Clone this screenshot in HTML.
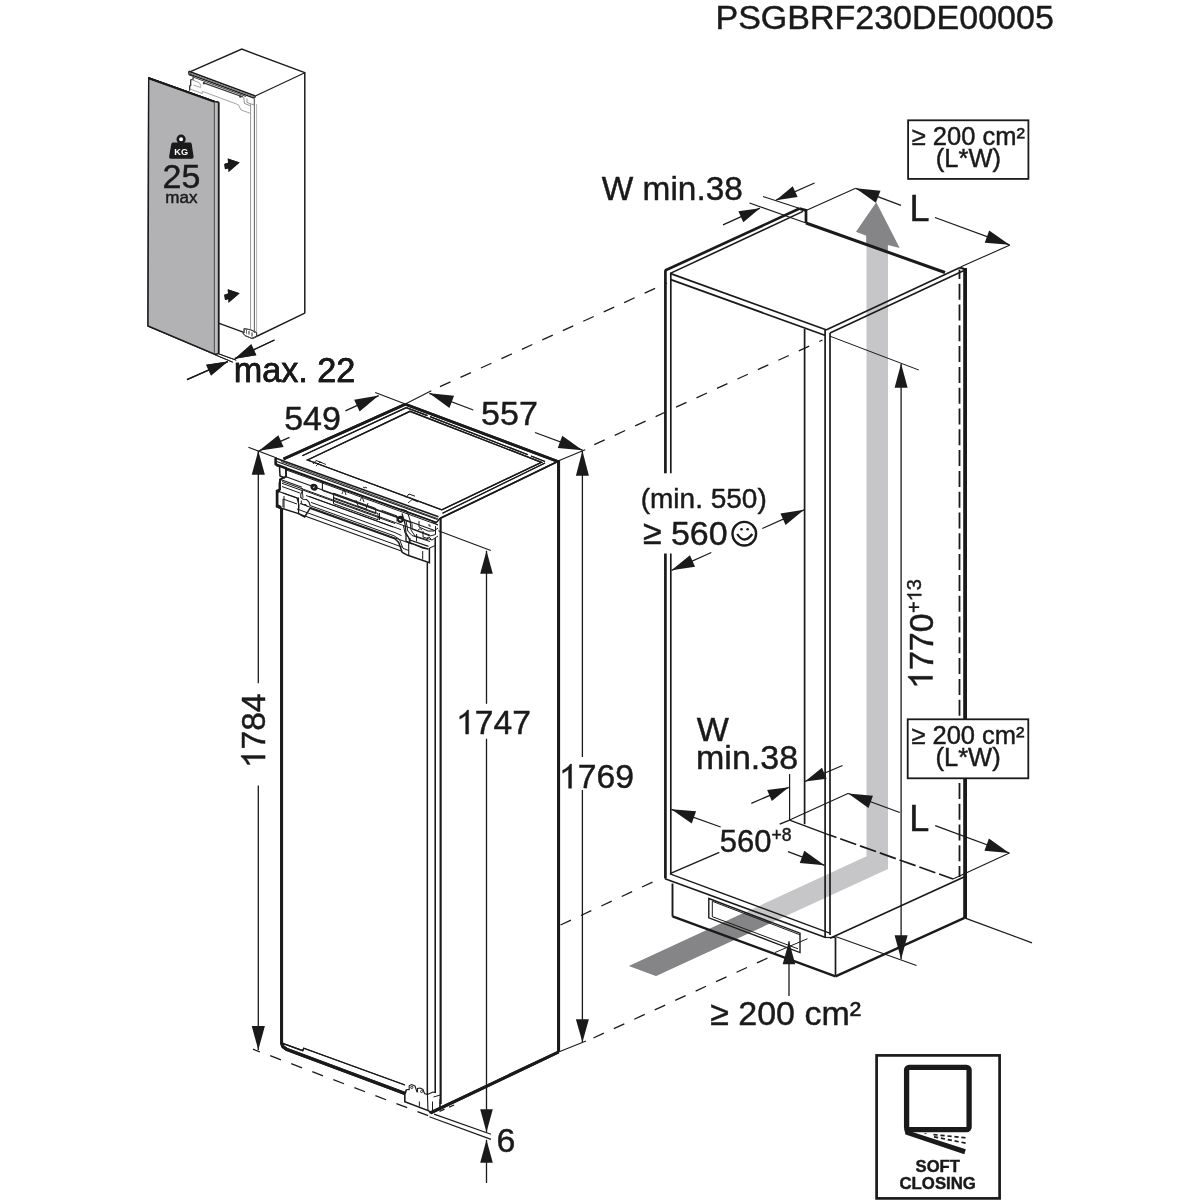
<!DOCTYPE html>
<html><head><meta charset="utf-8"><style>
html,body{margin:0;padding:0;background:#fff;}
svg{display:block;will-change:transform;}
text{font-family:"Liberation Sans",sans-serif;}
</style></head><body>
<svg width="1200" height="1200" viewBox="0 0 1200 1200">
<rect width="1200" height="1200" fill="#fff"/>
<text x="715.5" y="29.3" font-size="34" text-anchor="start" font-weight="normal" fill="#1a1a1a" stroke="#1a1a1a" stroke-width="0.45">PSGBRF230DE00005</text>
<polygon points="629,966 866.5,856.3 866.5,245 888,245 888,869 656,976" fill="#c6c6c8"/>
<polygon points="629,966 745.17,912.34 771.94,922.53 656,976" fill="#858587"/>
<polygon points="876.3,202.3 856,231.7 866.2,235.7 866.2,244.54 887.8,252.2 887.8,245 899.7,248" fill="#858587"/>
<polyline points="189.3,72.1 241.8,49.1 304.8,72.7" fill="none" stroke="#1a1a1a" stroke-width="1.35" stroke-linejoin="miter"/>
<line x1="304.8" y1="72.7" x2="255.3" y2="96" stroke="#1a1a1a" stroke-width="1.1"/>
<line x1="304.8" y1="72" x2="304.8" y2="313.3" stroke="#1a1a1a" stroke-width="1.5"/>
<line x1="304.8" y1="313.2" x2="252" y2="338.6" stroke="#1a1a1a" stroke-width="1.4"/>
<polyline points="188.7,71.3 189,74 254.3,98.2 255.5,96" fill="none" stroke="#1a1a1a" stroke-width="1.4" stroke-linejoin="miter"/>
<line x1="188.7" y1="71.3" x2="255.3" y2="96" stroke="#1a1a1a" stroke-width="1.5"/>
<polygon points="189,72.2 254.8,96.6 254.3,97.6 189,73.5" fill="#777"/>
<polyline points="189,74 189.5,75 193.3,76 193,79.3 190.7,80 190.7,85.3 189.7,86 189.7,90.7" fill="none" stroke="#333" stroke-width="1.3" stroke-linejoin="miter"/>
<line x1="193.7" y1="77.3" x2="246" y2="96.5" stroke="#444" stroke-width="1.0"/>
<line x1="203" y1="82.6" x2="243" y2="97" stroke="#333" stroke-width="1.3"/>
<circle cx="204" cy="83.3" r="1.1" fill="#333"/><circle cx="240.3" cy="96.6" r="1.2" fill="#333"/>
<polyline points="192.3,80 199,82.5 201,85.5 200.5,87.5 193.5,85" fill="none" stroke="#9a9a9a" stroke-width="0.9" stroke-linejoin="miter"/>
<polyline points="190,89 202.3,93.5 202.3,91.3 238.3,104.7 241,110 251,113.5" fill="none" stroke="#9a9a9a" stroke-width="0.9" stroke-linejoin="miter"/>
<polyline points="243.7,97 244.5,103.5 251,106" fill="none" stroke="#888" stroke-width="0.9" stroke-linejoin="miter"/>
<polyline points="247,98.5 247,102.5 254.3,105" fill="none" stroke="#888" stroke-width="0.9" stroke-linejoin="miter"/>
<line x1="254.3" y1="98" x2="254.3" y2="104.7" stroke="#888" stroke-width="1.0"/>
<line x1="250.6" y1="104" x2="250.6" y2="329" stroke="#999" stroke-width="1.0"/>
<line x1="254.4" y1="99" x2="254.4" y2="333" stroke="#6a6a6a" stroke-width="1.1"/>
<line x1="256.6" y1="104" x2="256.6" y2="332" stroke="#aaa" stroke-width="0.9"/>
<line x1="218.5" y1="323.1" x2="244.5" y2="332.6" stroke="#1a1a1a" stroke-width="1.4"/>
<polyline points="244.1,328.6 244,331.8 242.8,333 245,335.6 252,338.5 256.6,336.5 256.6,332.5 250.6,329.8 244.1,328.6" fill="none" stroke="#444" stroke-width="1.0" stroke-linejoin="miter"/>
<line x1="246.5" y1="330" x2="246.5" y2="333.5" stroke="#666" stroke-width="0.9"/>
<line x1="249" y1="331" x2="249" y2="334.5" stroke="#666" stroke-width="0.9"/>
<line x1="252" y1="332.5" x2="252" y2="336.5" stroke="#666" stroke-width="0.9"/>
<polygon points="148.7,78 214.6,101.6 214.6,354.2 148,326" fill="#b2b2b4"/>
<polygon points="148.7,78 214.6,101.6 214.6,354.2 148,326" fill="none" stroke="#1a1a1a" stroke-width="1.4" stroke-linejoin="miter"/>
<line x1="148.7" y1="78.3" x2="214.6" y2="101.9" stroke="#1a1a1a" stroke-width="2.0"/>
<polygon points="214.6,101.6 218.6,102.2 218.6,353.6 214.6,354.2" fill="#bdbdbf"/>
<line x1="218.6" y1="102.2" x2="218.6" y2="353.6" stroke="#1a1a1a" stroke-width="1.6"/>
<line x1="214.6" y1="101.6" x2="218.6" y2="102.2" stroke="#1a1a1a" stroke-width="1.4"/>
<line x1="214.6" y1="354.2" x2="218.6" y2="353.6" stroke="#1a1a1a" stroke-width="1.2"/>
<polygon points="239.6,293.3 227.8,289.3 228.6,302.7" fill="#1a1a1a"/>
<polygon points="224.3,294.8 231,292.5 232.5,298 225,300" fill="#1a1a1a"/>
<polygon points="239.6,162.5 227.8,158.5 228.6,171.9" fill="#1a1a1a"/>
<polygon points="224.3,164 231,161.7 232.5,167.2 225,169.2" fill="#1a1a1a"/>
<circle cx="181.1" cy="139.2" r="3.3" fill="#fff" stroke="#1a1a1a" stroke-width="2.6"/>
<path d="M173.3,142.6 L189.9,142.6 Q191.4,142.6 191.7,144 L193.6,156.8 Q193.8,158.8 191.8,158.8 L170.8,158.8 Q168.8,158.8 169.1,156.8 L171.3,144 Q171.7,142.6 173.3,142.6 Z" fill="#1a1a1a"/>
<text x="181.2" y="154.6" font-size="9.2" text-anchor="middle" font-weight="bold" fill="#fff">KG</text>
<text x="181.5" y="187.9" font-size="34" text-anchor="middle" font-weight="normal" fill="#1a1a1a" stroke="#1a1a1a" stroke-width="0.45">25</text>
<text x="181.4" y="202.5" font-size="17" text-anchor="middle" font-weight="normal" fill="#1a1a1a" stroke="#1a1a1a" stroke-width="0.45">max</text>
<line x1="214.6" y1="354.6" x2="232.8" y2="362.2" stroke="#1a1a1a" stroke-width="0.9"/>
<line x1="218.6" y1="353.8" x2="236.2" y2="360.2" stroke="#1a1a1a" stroke-width="0.9"/>
<line x1="187" y1="379.7" x2="227.8" y2="361.6" stroke="#1a1a1a" stroke-width="1.3"/>
<polygon points="227.8,361.6 211.04,375.6 206.17,364.63" fill="#1a1a1a"/>
<line x1="274.5" y1="340" x2="234.8" y2="358.7" stroke="#1a1a1a" stroke-width="1.3"/>
<polygon points="234.8,358.7 251.24,344.32 256.35,355.18" fill="#1a1a1a"/>
<text x="233.7" y="381.9" font-size="34.2" text-anchor="start" font-weight="normal" fill="#1a1a1a" stroke="#1a1a1a" stroke-width="0.45">max. 22</text>
<line x1="283.5" y1="459" x2="405.3" y2="404.3" stroke="#1a1a1a" stroke-width="2.8"/>
<line x1="405.3" y1="404.3" x2="557.2" y2="461.2" stroke="#1a1a1a" stroke-width="2.8"/>
<line x1="302.3" y1="455.7" x2="406.3" y2="407.6" stroke="#1a1a1a" stroke-width="1.2"/>
<line x1="406.3" y1="407.6" x2="427.5" y2="415.6" stroke="#1a1a1a" stroke-width="1.2"/>
<line x1="430" y1="416.6" x2="528" y2="454.8" stroke="#1a1a1a" stroke-width="1.2"/>
<line x1="531" y1="456" x2="545" y2="461.5" stroke="#1a1a1a" stroke-width="1.2"/>
<polygon points="307.5,460 410,411.3 541.5,462.3 441.8,509.8" fill="none" stroke="#1a1a1a" stroke-width="1.3" stroke-linejoin="miter"/>
<line x1="557.2" y1="461.8" x2="440.3" y2="518.3" stroke="#1a1a1a" stroke-width="1.6"/>
<line x1="545" y1="463" x2="442.5" y2="513.2" stroke="#1a1a1a" stroke-width="1.1"/>
<line x1="558.6" y1="460" x2="558.6" y2="1052" stroke="#1a1a1a" stroke-width="2.9"/>
<line x1="558.6" y1="1052" x2="430.5" y2="1112.8" stroke="#1a1a1a" stroke-width="3.0"/>
<line x1="440.6" y1="518" x2="440.6" y2="1104" stroke="#1a1a1a" stroke-width="1.7"/>
<line x1="281.6" y1="508" x2="281.6" y2="1044" stroke="#1a1a1a" stroke-width="2.9"/>
<polyline points="281.6,1043 283,1046.8 287,1049.6 405,1093.4" fill="none" stroke="#1a1a1a" stroke-width="3.2" stroke-linejoin="round"/>
<polyline points="282,1043.2 302.7,1050.6 303.8,1048.2 405,1085" fill="none" stroke="#1a1a1a" stroke-width="1.3" stroke-linejoin="miter"/>
<line x1="427.4" y1="562.6" x2="427.4" y2="1095" stroke="#1a1a1a" stroke-width="1.3"/>
<line x1="435.3" y1="539" x2="435.3" y2="1093" stroke="#1a1a1a" stroke-width="1.3"/>
<polyline points="275.3,458 275.3,464 286,468 286,476.7 280,479.3 280,489.3 276.7,490.7 276.7,506.7 281.3,508.5" fill="none" stroke="#1a1a1a" stroke-width="1.9" stroke-linejoin="miter"/>
<line x1="275.3" y1="458" x2="438.5" y2="516.8" stroke="#1a1a1a" stroke-width="1.6"/>
<line x1="276.7" y1="461.6" x2="437.5" y2="519.6" stroke="#1a1a1a" stroke-width="1.1"/>
<line x1="286" y1="468" x2="436.5" y2="522.6" stroke="#1a1a1a" stroke-width="1.5"/>
<line x1="286" y1="476.7" x2="436" y2="531" stroke="#1a1a1a" stroke-width="1.1"/>
<line x1="322.4" y1="481.4" x2="322.4" y2="490.5" stroke="#1a1a1a" stroke-width="1.1"/>
<line x1="280" y1="479.3" x2="302" y2="487.3" stroke="#1a1a1a" stroke-width="1.1"/>
<line x1="282" y1="483.3" x2="302" y2="490.5" stroke="#1a1a1a" stroke-width="1.0"/>
<line x1="303.5" y1="490.3" x2="395" y2="523.5" stroke="#1a1a1a" stroke-width="1.0"/>
<line x1="306" y1="495.5" x2="393" y2="527" stroke="#1a1a1a" stroke-width="1.0"/>
<line x1="322.4" y1="490.5" x2="412" y2="523" stroke="#1a1a1a" stroke-width="1.0"/>
<polyline points="276.7,490.7 298.5,498.5" fill="none" stroke="#1a1a1a" stroke-width="1.1" stroke-linejoin="miter"/>
<line x1="284" y1="496" x2="284" y2="508.2" stroke="#1a1a1a" stroke-width="1.0"/>
<polyline points="298.5,497.5 298.5,513.3" fill="none" stroke="#1a1a1a" stroke-width="1.1" stroke-linejoin="miter"/>
<polyline points="303.3,490 300.8,494 300.8,497.5 303,499.3 306.5,499.5 309,502 310,505.5" fill="none" stroke="#1a1a1a" stroke-width="1.1" stroke-linejoin="miter"/>
<polyline points="301.3,500.5 301.3,503.5 303.5,504.5 306,504.6 307.5,507" fill="none" stroke="#1a1a1a" stroke-width="1.0" stroke-linejoin="miter"/>
<polyline points="276.7,506.7 298.5,513.6 304.7,516.9 310,508.2 395,538.8 398.7,542.5 402.3,552.4 407.8,555.3 429.4,562.6 429.4,548" fill="none" stroke="#1a1a1a" stroke-width="1.5" stroke-linejoin="miter"/>
<polyline points="310,505.5 394,535.8 399.5,539.3 403,548.3 408.7,550.5" fill="none" stroke="#1a1a1a" stroke-width="1.0" stroke-linejoin="miter"/>
<polyline points="311,502.4 395,532.6 401.5,535.6" fill="none" stroke="#1a1a1a" stroke-width="1.0" stroke-linejoin="miter"/>
<polyline points="333.6,493.2 375.7,508.4 375.7,513.6 333.6,498.4 333.6,493.2" fill="none" stroke="#1a1a1a" stroke-width="1.0" stroke-linejoin="miter"/>
<polyline points="381.5,510.3 397,516 397,521.5" fill="none" stroke="#1a1a1a" stroke-width="1.0" stroke-linejoin="miter"/>
<polyline points="342,494 344,489 346,495" fill="none" stroke="#1a1a1a" stroke-width="0.9" stroke-linejoin="miter"/>
<polyline points="360,501 362,496.5 364,502" fill="none" stroke="#1a1a1a" stroke-width="0.9" stroke-linejoin="miter"/>
<line x1="379.5" y1="513" x2="379.5" y2="520" stroke="#1a1a1a" stroke-width="1.0"/>
<polyline points="408.7,542.3 408.7,555.3" fill="none" stroke="#1a1a1a" stroke-width="1.1" stroke-linejoin="miter"/>
<polyline points="408.7,542.3 428,549" fill="none" stroke="#1a1a1a" stroke-width="1.0" stroke-linejoin="miter"/>
<line x1="422.7" y1="551" x2="422.7" y2="559.5" stroke="#1a1a1a" stroke-width="1.0"/>
<polyline points="403.5,526 405,533 409,538 409.5,542" fill="none" stroke="#1a1a1a" stroke-width="1.0" stroke-linejoin="miter"/>
<polyline points="406,520.5 407.8,531 412,535.5 430,541.5" fill="none" stroke="#1a1a1a" stroke-width="1.0" stroke-linejoin="miter"/>
<polyline points="412,523.5 412,529 430,536 435.5,534.5 435.5,526" fill="none" stroke="#1a1a1a" stroke-width="1.0" stroke-linejoin="miter"/>
<polyline points="418,530 420,528.6 422,530" fill="none" stroke="#1a1a1a" stroke-width="0.9" stroke-linejoin="miter"/>
<polyline points="427,538 429,537 431,539" fill="none" stroke="#1a1a1a" stroke-width="0.9" stroke-linejoin="miter"/>
<polyline points="429.4,548 435.5,545.5 435.5,538" fill="none" stroke="#1a1a1a" stroke-width="1.0" stroke-linejoin="miter"/>
<line x1="416.6" y1="534" x2="416.6" y2="541.5" stroke="#1a1a1a" stroke-width="1.0"/>
<circle cx="313.5" cy="486.8" r="2.3" fill="none" stroke="#1a1a1a" stroke-width="1.6"/>
<circle cx="400.3" cy="519.8" r="2.3" fill="none" stroke="#1a1a1a" stroke-width="1.6"/>
<polyline points="313,464 316,460.5 322,462.7" fill="none" stroke="#1a1a1a" stroke-width="1.0" stroke-linejoin="miter"/>
<polyline points="406,497.5 409,494 415,496.2" fill="none" stroke="#1a1a1a" stroke-width="1.0" stroke-linejoin="miter"/>
<line x1="365" y1="487" x2="367" y2="488" stroke="#1a1a1a" stroke-width="1.0"/>
<polyline points="244.1,328.6 244,331.8 242.8,333 245,335.6 252,338.5 256.6,336.5 256.6,332.5 250.6,329.8 244.1,328.6" fill="none" stroke="#444" stroke-width="1.0" stroke-linejoin="miter"/>
<line x1="246.5" y1="330" x2="246.5" y2="333.5" stroke="#666" stroke-width="0.9"/>
<line x1="249" y1="331" x2="249" y2="334.5" stroke="#666" stroke-width="0.9"/>
<line x1="252" y1="332.5" x2="252" y2="336.5" stroke="#666" stroke-width="0.9"/>
<polygon points="148.7,78 214.6,101.6 214.6,354.2 148,326" fill="#b2b2b4"/>
<polygon points="148.7,78 214.6,101.6 214.6,354.2 148,326" fill="none" stroke="#1a1a1a" stroke-width="1.4" stroke-linejoin="miter"/>
<line x1="148.7" y1="78.3" x2="214.6" y2="101.9" stroke="#1a1a1a" stroke-width="2.0"/>
<polygon points="214.6,101.6 218.6,102.2 218.6,353.6 214.6,354.2" fill="#bdbdbf"/>
<line x1="218.6" y1="102.2" x2="218.6" y2="353.6" stroke="#1a1a1a" stroke-width="1.6"/>
<line x1="214.6" y1="101.6" x2="218.6" y2="102.2" stroke="#1a1a1a" stroke-width="1.4"/>
<line x1="214.6" y1="354.2" x2="218.6" y2="353.6" stroke="#1a1a1a" stroke-width="1.2"/>
<polygon points="239.6,293.3 227.8,289.3 228.6,302.7" fill="#1a1a1a"/>
<polygon points="224.3,294.8 231,292.5 232.5,298 225,300" fill="#1a1a1a"/>
<polygon points="239.6,162.5 227.8,158.5 228.6,171.9" fill="#1a1a1a"/>
<polygon points="224.3,164 231,161.7 232.5,167.2 225,169.2" fill="#1a1a1a"/>
<circle cx="181.1" cy="139.2" r="3.3" fill="#fff" stroke="#1a1a1a" stroke-width="2.6"/>
<path d="M173.3,142.6 L189.9,142.6 Q191.4,142.6 191.7,144 L193.6,156.8 Q193.8,158.8 191.8,158.8 L170.8,158.8 Q168.8,158.8 169.1,156.8 L171.3,144 Q171.7,142.6 173.3,142.6 Z" fill="#1a1a1a"/>
<text x="181.2" y="154.6" font-size="9.2" text-anchor="middle" font-weight="bold" fill="#fff">KG</text>
<text x="181.5" y="187.9" font-size="34" text-anchor="middle" font-weight="normal" fill="#1a1a1a" stroke="#1a1a1a" stroke-width="0.45">25</text>
<text x="181.4" y="202.5" font-size="17" text-anchor="middle" font-weight="normal" fill="#1a1a1a" stroke="#1a1a1a" stroke-width="0.45">max</text>
<line x1="214.6" y1="354.6" x2="232.8" y2="362.2" stroke="#1a1a1a" stroke-width="0.9"/>
<line x1="218.6" y1="353.8" x2="236.2" y2="360.2" stroke="#1a1a1a" stroke-width="0.9"/>
<line x1="187" y1="379.7" x2="227.8" y2="361.6" stroke="#1a1a1a" stroke-width="1.3"/>
<polygon points="227.8,361.6 211.04,375.6 206.17,364.63" fill="#1a1a1a"/>
<line x1="274.5" y1="340" x2="234.8" y2="358.7" stroke="#1a1a1a" stroke-width="1.3"/>
<polygon points="234.8,358.7 251.24,344.32 256.35,355.18" fill="#1a1a1a"/>
<text x="233.7" y="381.9" font-size="34.2" text-anchor="start" font-weight="normal" fill="#1a1a1a" stroke="#1a1a1a" stroke-width="0.45">max. 22</text>
<line x1="283.5" y1="459" x2="405.3" y2="404.3" stroke="#1a1a1a" stroke-width="2.8"/>
<line x1="405.3" y1="404.3" x2="557.2" y2="461.2" stroke="#1a1a1a" stroke-width="2.8"/>
<line x1="302.3" y1="455.7" x2="406.3" y2="407.6" stroke="#1a1a1a" stroke-width="1.2"/>
<line x1="406.3" y1="407.6" x2="427.5" y2="415.6" stroke="#1a1a1a" stroke-width="1.2"/>
<line x1="430" y1="416.6" x2="528" y2="454.8" stroke="#1a1a1a" stroke-width="1.2"/>
<line x1="531" y1="456" x2="545" y2="461.5" stroke="#1a1a1a" stroke-width="1.2"/>
<polygon points="307.5,460 410,411.3 541.5,462.3 441.8,509.8" fill="none" stroke="#1a1a1a" stroke-width="1.3" stroke-linejoin="miter"/>
<line x1="557.2" y1="461.8" x2="440.3" y2="518.3" stroke="#1a1a1a" stroke-width="1.6"/>
<line x1="545" y1="463" x2="442.5" y2="513.2" stroke="#1a1a1a" stroke-width="1.1"/>
<line x1="558.6" y1="460" x2="558.6" y2="1052" stroke="#1a1a1a" stroke-width="2.9"/>
<line x1="558.6" y1="1052" x2="430.5" y2="1112.8" stroke="#1a1a1a" stroke-width="3.0"/>
<line x1="440.6" y1="518" x2="440.6" y2="1104" stroke="#1a1a1a" stroke-width="1.7"/>
<line x1="281.6" y1="508" x2="281.6" y2="1044" stroke="#1a1a1a" stroke-width="2.9"/>
<polyline points="281.6,1043 283,1046.8 287,1049.6 405,1093.4" fill="none" stroke="#1a1a1a" stroke-width="3.2" stroke-linejoin="round"/>
<polyline points="282,1043.2 302.7,1050.6 303.8,1048.2 405,1085" fill="none" stroke="#1a1a1a" stroke-width="1.3" stroke-linejoin="miter"/>
<line x1="427.4" y1="562.6" x2="427.4" y2="1095" stroke="#1a1a1a" stroke-width="1.3"/>
<line x1="435.3" y1="539" x2="435.3" y2="1093" stroke="#1a1a1a" stroke-width="1.3"/>
<polyline points="276,458.5 276.2,465.2 436.5,522.4 440.3,518" fill="none" stroke="#1a1a1a" stroke-width="1.6" stroke-linejoin="miter"/>
<line x1="281" y1="461.5" x2="438" y2="518.8" stroke="#1a1a1a" stroke-width="0.9"/>
<polyline points="276.2,465.2 279.5,466.5 280,476 285,478" fill="none" stroke="#1a1a1a" stroke-width="1.5" stroke-linejoin="miter"/>
<polyline points="280.5,480 279.4,483 279.4,491 277.6,492.5 277.6,505 281.2,507" fill="none" stroke="#1a1a1a" stroke-width="1.7" stroke-linejoin="miter"/>
<line x1="285" y1="469.5" x2="438" y2="524.96" stroke="#1a1a1a" stroke-width="1.0"/>
<line x1="282" y1="481.5" x2="430" y2="535.15" stroke="#1a1a1a" stroke-width="1.0"/>
<line x1="282" y1="486.5" x2="300" y2="493.02" stroke="#1a1a1a" stroke-width="1.0"/>
<line x1="309" y1="496.3" x2="401" y2="529.65" stroke="#1a1a1a" stroke-width="1.0"/>
<line x1="300" y1="503.5" x2="412" y2="544.1" stroke="#1a1a1a" stroke-width="1.0"/>
<line x1="297" y1="509" x2="402" y2="547.06" stroke="#1a1a1a" stroke-width="1.0"/>
<line x1="298" y1="513.5" x2="402" y2="551.2" stroke="#1a1a1a" stroke-width="1.2"/>
<polyline points="283,493 297,498 299,505 298.5,513.5" fill="none" stroke="#1a1a1a" stroke-width="1.1" stroke-linejoin="miter"/>
<polyline points="283,507 283,499 297,504" fill="none" stroke="#1a1a1a" stroke-width="1.0" stroke-linejoin="miter"/>
<polygon points="333.5,497.5 378,513.6 378,519.8 333.5,503.7" fill="none" stroke="#1a1a1a" stroke-width="1.0" stroke-linejoin="miter"/>
<polyline points="302,488 303,498" fill="none" stroke="#1a1a1a" stroke-width="0.9" stroke-linejoin="miter"/>
<polyline points="356,500 358,506 366,509 368,503" fill="none" stroke="#1a1a1a" stroke-width="0.9" stroke-linejoin="miter"/>
<polyline points="402,513.5 405,524 406,533 410,540 428.5,546.3" fill="none" stroke="#1a1a1a" stroke-width="1.3" stroke-linejoin="miter"/>
<polyline points="401,509 407,511 410,520 411,530 415,536 428,540" fill="none" stroke="#1a1a1a" stroke-width="1.0" stroke-linejoin="miter"/>
<polyline points="406,533 406,541 423,548 428.5,549" fill="none" stroke="#1a1a1a" stroke-width="1.3" stroke-linejoin="miter"/>
<line x1="410" y1="538" x2="410" y2="543" stroke="#1a1a1a" stroke-width="1.0"/>
<polyline points="419,521 419,527 428,531 434,531 438,528" fill="none" stroke="#1a1a1a" stroke-width="1.0" stroke-linejoin="miter"/>
<polyline points="423,531 423,537 432,540 438,536" fill="none" stroke="#1a1a1a" stroke-width="1.0" stroke-linejoin="miter"/>
<polyline points="428,525 430,525 430,527" fill="none" stroke="#1a1a1a" stroke-width="0.9" stroke-linejoin="miter"/>
<line x1="432" y1="522" x2="438" y2="525" stroke="#1a1a1a" stroke-width="1.0"/>
<circle cx="314.5" cy="487.5" r="2.4" fill="none" stroke="#1a1a1a" stroke-width="1.5"/>
<circle cx="400.5" cy="519" r="2.4" fill="none" stroke="#1a1a1a" stroke-width="1.5"/>
<polyline points="316,466 320,462 326,464.5" fill="none" stroke="#1a1a1a" stroke-width="0.9" stroke-linejoin="miter"/>
<polyline points="408,503 412,499.5 418,502" fill="none" stroke="#1a1a1a" stroke-width="0.9" stroke-linejoin="miter"/>
<line x1="363" y1="487" x2="365" y2="488" stroke="#1a1a1a" stroke-width="1.0"/>
<polyline points="406.5,1089.5 404.8,1094.5 404.8,1101.8 428.8,1110.8 430.3,1112.8 433.5,1112 439.8,1108.5 440.3,1099" fill="none" stroke="#1a1a1a" stroke-width="1.6" stroke-linejoin="miter"/>
<polyline points="406.5,1089.5 409.2,1089.6 409.2,1085.8 411.5,1084.6 415,1086 416.5,1090.5 417.3,1092.2" fill="none" stroke="#1a1a1a" stroke-width="1.1" stroke-linejoin="miter"/>
<polyline points="417.3,1092.2 417.5,1088.5 420,1088 423,1089.5 424.5,1093.5 427.4,1094.5" fill="none" stroke="#1a1a1a" stroke-width="1.1" stroke-linejoin="miter"/>
<circle cx="411.8" cy="1087.4" r="1.1" fill="none" stroke="#1a1a1a" stroke-width="0.9"/>
<circle cx="421.6" cy="1091.5" r="1.1" fill="none" stroke="#1a1a1a" stroke-width="0.9"/>
<polyline points="427.4,1094.5 433,1092 435.3,1092.5" fill="none" stroke="#1a1a1a" stroke-width="1.1" stroke-linejoin="miter"/>
<polyline points="427.4,1094.5 428,1111" fill="none" stroke="#1a1a1a" stroke-width="1.1" stroke-linejoin="miter"/>
<line x1="432.5" y1="1101.5" x2="432.5" y2="1111.5" stroke="#1a1a1a" stroke-width="1.0"/>
<line x1="419.4" y1="1101.5" x2="419.4" y2="1106.5" stroke="#1a1a1a" stroke-width="1.0"/>
<line x1="433.5" y1="1097" x2="440.3" y2="1095" stroke="#1a1a1a" stroke-width="1.0"/>
<line x1="248.4" y1="447.3" x2="276.7" y2="457.9" stroke="#1a1a1a" stroke-width="1.1"/>
<line x1="375.2" y1="392.5" x2="405.3" y2="404" stroke="#1a1a1a" stroke-width="1.1"/>
<line x1="289.5" y1="437.4" x2="259" y2="450.8" stroke="#1a1a1a" stroke-width="1.3"/>
<polygon points="259,450.8 278.36,435.2 283.59,447.1" fill="#1a1a1a"/>
<line x1="345.4" y1="410.9" x2="378.7" y2="395.6" stroke="#1a1a1a" stroke-width="1.3"/>
<polygon points="378.7,395.6 359.61,411.53 354.18,399.71" fill="#1a1a1a"/>
<text x="284.2" y="429.8" font-size="34" text-anchor="start" font-weight="normal" fill="#1a1a1a" stroke="#1a1a1a" stroke-width="0.45">549</text>
<line x1="405.3" y1="404" x2="431.3" y2="390.7" stroke="#1a1a1a" stroke-width="1.1"/>
<line x1="558.6" y1="460.8" x2="585.2" y2="449.8" stroke="#1a1a1a" stroke-width="1.1"/>
<line x1="473.3" y1="410" x2="429.3" y2="393.3" stroke="#1a1a1a" stroke-width="1.3"/>
<polygon points="429.3,393.3 454.04,395.74 449.43,407.89" fill="#1a1a1a"/>
<line x1="535" y1="432.5" x2="582.5" y2="450.2" stroke="#1a1a1a" stroke-width="1.3"/>
<polygon points="582.5,450.2 557.74,447.91 562.28,435.73" fill="#1a1a1a"/>
<text x="481.1" y="425" font-size="34" text-anchor="start" font-weight="normal" fill="#1a1a1a" stroke="#1a1a1a" stroke-width="0.45">557</text>
<line x1="258.3" y1="683.3" x2="258.3" y2="450.8" stroke="#1a1a1a" stroke-width="1.3"/>
<polygon points="258.3,450.8 264.9,474.8 251.7,474.8" fill="#1a1a1a"/>
<line x1="258.3" y1="785.4" x2="258.3" y2="1050" stroke="#1a1a1a" stroke-width="1.3"/>
<polygon points="258.3,1050 251.7,1026 264.9,1026" fill="#1a1a1a"/>
<g transform="translate(265.1,768.1) rotate(-90)"><path d="M0.3726,0 L0.2847,0 L0.2847,0.56 C0.25,0.527 0.205,0.497 0.16,0.472 C0.14,0.461 0.12,0.452 0.109,0.447 L0.109,0.530 C0.17,0.558 0.225,0.595 0.27,0.636 C0.3,0.664 0.32,0.69 0.336,0.716 L0.3726,0.716 Z" transform="translate(0,0) scale(33.5,-33.5)" fill="#1a1a1a" stroke="#1a1a1a" stroke-width="0.0134"/><text x="18.63" y="0" font-size="33.5" fill="#1a1a1a" stroke="#1a1a1a" stroke-width="0.45">784</text></g>
<line x1="438.3" y1="530.8" x2="490.8" y2="550.6" stroke="#1a1a1a" stroke-width="1.1"/>
<line x1="486.5" y1="703.8" x2="486.5" y2="550.8" stroke="#1a1a1a" stroke-width="1.3"/>
<polygon points="486.5,550.8 492.8,573.8 480.2,573.8" fill="#1a1a1a"/>
<line x1="486.5" y1="738.7" x2="486.5" y2="1132.2" stroke="#1a1a1a" stroke-width="1.3"/>
<polygon points="486.5,1132.2 480.2,1109.2 492.8,1109.2" fill="#1a1a1a"/>
<path d="M0.3726,0 L0.2847,0 L0.2847,0.56 C0.25,0.527 0.205,0.497 0.16,0.472 C0.14,0.461 0.12,0.452 0.109,0.447 L0.109,0.530 C0.17,0.558 0.225,0.595 0.27,0.636 C0.3,0.664 0.32,0.69 0.336,0.716 L0.3726,0.716 Z" transform="translate(456.1,734.1) scale(33.6,-33.6)" fill="#1a1a1a" stroke="#1a1a1a" stroke-width="0.0134"/><text x="474.79" y="734.1" font-size="33.6" fill="#1a1a1a" stroke="#1a1a1a" stroke-width="0.45">747</text>
<line x1="434" y1="1114.1" x2="491" y2="1134.2" stroke="#1a1a1a" stroke-width="1.2"/>
<line x1="429.4" y1="1116.8" x2="491" y2="1139.4" stroke="#1a1a1a" stroke-width="1.2"/>
<line x1="486.5" y1="1183" x2="486.5" y2="1139.8" stroke="#1a1a1a" stroke-width="1.3"/>
<polygon points="486.5,1139.8 492.8,1162.8 480.2,1162.8" fill="#1a1a1a"/>
<text x="496.4" y="1151.7" font-size="34" text-anchor="start" font-weight="normal" fill="#1a1a1a" stroke="#1a1a1a" stroke-width="0.45">6</text>
<line x1="582.4" y1="757" x2="582.4" y2="450.8" stroke="#1a1a1a" stroke-width="1.3"/>
<polygon points="582.4,450.8 588.9,475.8 575.9,475.8" fill="#1a1a1a"/>
<line x1="582.4" y1="790" x2="582.4" y2="1042.3" stroke="#1a1a1a" stroke-width="1.3"/>
<polygon points="582.4,1042.3 575.9,1019.3 588.9,1019.3" fill="#1a1a1a"/>
<line x1="558.6" y1="1052" x2="586" y2="1041" stroke="#1a1a1a" stroke-width="1.1"/>
<path d="M0.3726,0 L0.2847,0 L0.2847,0.56 C0.25,0.527 0.205,0.497 0.16,0.472 C0.14,0.461 0.12,0.452 0.109,0.447 L0.109,0.530 C0.17,0.558 0.225,0.595 0.27,0.636 C0.3,0.664 0.32,0.69 0.336,0.716 L0.3726,0.716 Z" transform="translate(559,788.2) scale(33.7,-33.7)" fill="#1a1a1a" stroke="#1a1a1a" stroke-width="0.0134"/><text x="577.74" y="788.2" font-size="33.7" fill="#1a1a1a" stroke="#1a1a1a" stroke-width="0.45">769</text>
<line x1="440" y1="386.7" x2="667" y2="283" stroke="#1a1a1a" stroke-width="1.3" stroke-dasharray="11.5 11"/>
<line x1="586" y1="448.5" x2="822.5" y2="340" stroke="#1a1a1a" stroke-width="1.3" stroke-dasharray="11.5 11" stroke-dashoffset="13.4"/>
<line x1="560.5" y1="925" x2="656" y2="880.5" stroke="#1a1a1a" stroke-width="1.3" stroke-dasharray="11.5 11"/>
<line x1="593.4" y1="1038" x2="772" y2="956" stroke="#1a1a1a" stroke-width="1.3" stroke-dasharray="11.5 11"/>
<line x1="253" y1="1049.2" x2="430.3" y2="1116.5" stroke="#1a1a1a" stroke-width="1.3" stroke-dasharray="11.5 11" stroke-dashoffset="4.1"/>
<line x1="439.5" y1="1111.3" x2="456" y2="1104.2" stroke="#1a1a1a" stroke-width="1.3" stroke-dasharray="5.5 5"/>
<line x1="665.4" y1="270.2" x2="665.4" y2="473.3" stroke="#1a1a1a" stroke-width="2.7"/>
<line x1="665.4" y1="553.5" x2="665.4" y2="878.5" stroke="#1a1a1a" stroke-width="2.7"/>
<line x1="670.8" y1="273.5" x2="670.8" y2="473.3" stroke="#1a1a1a" stroke-width="1.7"/>
<line x1="670.8" y1="553.5" x2="670.8" y2="874" stroke="#1a1a1a" stroke-width="1.7"/>
<line x1="665" y1="270.6" x2="799.5" y2="208.6" stroke="#1a1a1a" stroke-width="2.7"/>
<line x1="670.3" y1="273.4" x2="803" y2="211.4" stroke="#1a1a1a" stroke-width="1.6"/>
<polyline points="799.5,208.6 806,210.4 806,223" fill="none" stroke="#1a1a1a" stroke-width="2.7" stroke-linejoin="miter"/>
<line x1="806" y1="223" x2="945" y2="272.5" stroke="#1a1a1a" stroke-width="3.0"/>
<line x1="670" y1="273.4" x2="826" y2="329.8" stroke="#1a1a1a" stroke-width="1.7"/>
<line x1="670.8" y1="279.6" x2="825.5" y2="335.5" stroke="#1a1a1a" stroke-width="1.7"/>
<line x1="826" y1="330" x2="960" y2="267.5" stroke="#1a1a1a" stroke-width="1.7"/>
<line x1="830" y1="333" x2="964" y2="270.5" stroke="#1a1a1a" stroke-width="1.6"/>
<line x1="960" y1="267.5" x2="965.5" y2="269.5" stroke="#1a1a1a" stroke-width="2.2"/>
<line x1="965.1" y1="268" x2="965.1" y2="918" stroke="#1a1a1a" stroke-width="3.8"/>
<line x1="959.5" y1="269.5" x2="959.5" y2="877" stroke="#1a1a1a" stroke-width="1.8" stroke-dasharray="16 4.8" stroke-dashoffset="6.6"/>
<line x1="825.1" y1="330" x2="825.1" y2="938" stroke="#1a1a1a" stroke-width="1.7"/>
<line x1="830" y1="333" x2="830" y2="935" stroke="#1a1a1a" stroke-width="1.7"/>
<line x1="804.6" y1="329" x2="804.6" y2="824.2" stroke="#1a1a1a" stroke-width="1.7"/>
<line x1="670" y1="873.7" x2="719.3" y2="852.4" stroke="#1a1a1a" stroke-width="1.4"/>
<line x1="779.7" y1="824.2" x2="789.6" y2="820.1" stroke="#1a1a1a" stroke-width="1.4"/>
<line x1="789.6" y1="820.1" x2="829" y2="834.8" stroke="#1a1a1a" stroke-width="1.4"/>
<line x1="829" y1="834.8" x2="953" y2="879" stroke="#1a1a1a" stroke-width="1.7" stroke-dasharray="17 4" stroke-dashoffset="9.1"/>
<line x1="789.6" y1="774" x2="789.6" y2="820.1" stroke="#1a1a1a" stroke-width="1.2"/>
<line x1="665" y1="878.7" x2="825.6" y2="937.5" stroke="#1a1a1a" stroke-width="1.6"/>
<line x1="670" y1="873.9" x2="829.8" y2="933.2" stroke="#1a1a1a" stroke-width="1.3"/>
<line x1="672.5" y1="883.5" x2="672.5" y2="916.5" stroke="#1a1a1a" stroke-width="1.9"/>
<line x1="672.5" y1="916.3" x2="835.5" y2="976.3" stroke="#1a1a1a" stroke-width="2.4"/>
<line x1="835.5" y1="937.5" x2="835.5" y2="976.3" stroke="#1a1a1a" stroke-width="1.7"/>
<line x1="825.6" y1="937.5" x2="835.5" y2="937.5" stroke="#1a1a1a" stroke-width="1.2"/>
<line x1="835.5" y1="976.3" x2="964.5" y2="917.8" stroke="#1a1a1a" stroke-width="2.4"/>
<line x1="964.5" y1="917.8" x2="1032" y2="942.8" stroke="#1a1a1a" stroke-width="1.3"/>
<line x1="830" y1="938.3" x2="964" y2="877" stroke="#1a1a1a" stroke-width="1.6"/>
<polygon points="708.8,898.5 800,933.2 800,952.6 708.8,917.8" fill="none" stroke="#1a1a1a" stroke-width="1.4" stroke-linejoin="miter"/>
<polyline points="712.3,901.3 712.3,916.7 798,948.8" fill="none" stroke="#1a1a1a" stroke-width="1.0" stroke-linejoin="miter"/>
<line x1="712.3" y1="901.3" x2="800" y2="934.8" stroke="#1a1a1a" stroke-width="1.0"/>
<line x1="749.5" y1="203" x2="806" y2="223" stroke="#1a1a1a" stroke-width="1.1"/>
<line x1="763" y1="196.5" x2="806" y2="210.5" stroke="#1a1a1a" stroke-width="1.1"/>
<line x1="723" y1="224.8" x2="760" y2="208.2" stroke="#1a1a1a" stroke-width="1.3"/>
<polygon points="760,208.2 743.3,222.27 738.38,211.32" fill="#1a1a1a"/>
<line x1="814.5" y1="183" x2="776" y2="200.2" stroke="#1a1a1a" stroke-width="1.3"/>
<polygon points="776,200.2 792.73,186.16 797.62,197.11" fill="#1a1a1a"/>
<text x="601.8" y="199.5" font-size="33.4" text-anchor="start" font-weight="normal" fill="#1a1a1a" stroke="#1a1a1a" stroke-width="0.45">W min.38</text>
<line x1="806" y1="210.5" x2="855.7" y2="188.3" stroke="#1a1a1a" stroke-width="1.1"/>
<line x1="961" y1="266.8" x2="1010" y2="245" stroke="#1a1a1a" stroke-width="1.1"/>
<line x1="901" y1="205.3" x2="855.7" y2="188.3" stroke="#1a1a1a" stroke-width="1.3"/>
<polygon points="855.7,188.3 880.45,190.65 875.89,202.82" fill="#1a1a1a"/>
<line x1="935" y1="217.5" x2="1009.5" y2="244.8" stroke="#1a1a1a" stroke-width="1.3"/>
<polygon points="1009.5,244.8 984.73,242.65 989.2,230.44" fill="#1a1a1a"/>
<text x="909.4" y="221.2" font-size="36" text-anchor="start" font-weight="normal" fill="#1a1a1a" stroke="#1a1a1a" stroke-width="0.45">L</text>
<rect x="908.1" y="120.3" width="120.3" height="58.6" fill="#fff" stroke="#1a1a1a" stroke-width="1.8"/>
<text x="968.3" y="144.8" font-size="25.5" text-anchor="middle" font-weight="normal" fill="#1a1a1a" stroke="#1a1a1a" stroke-width="0.45">&#8805; 200 cm&#178;</text>
<text x="968.4" y="167.3" font-size="25.5" text-anchor="middle" font-weight="normal" fill="#1a1a1a" stroke="#1a1a1a" stroke-width="0.45">(L*W)</text>
<line x1="830" y1="336.2" x2="918.8" y2="370" stroke="#1a1a1a" stroke-width="1.0"/>
<line x1="835.5" y1="936.5" x2="916.5" y2="965.5" stroke="#1a1a1a" stroke-width="1.1"/>
<line x1="901.1" y1="600" x2="901.1" y2="363.8" stroke="#1a1a1a" stroke-width="1.3"/>
<polygon points="901.1,363.8 907.6,387.8 894.6,387.8" fill="#1a1a1a"/>
<line x1="901.1" y1="600" x2="901.1" y2="959.3" stroke="#1a1a1a" stroke-width="1.3"/>
<polygon points="901.1,959.3 894.6,935.3 907.6,935.3" fill="#1a1a1a"/>
<g transform="translate(932.5,689) rotate(-90)"><path d="M0.3726,0 L0.2847,0 L0.2847,0.56 C0.25,0.527 0.205,0.497 0.16,0.472 C0.14,0.461 0.12,0.452 0.109,0.447 L0.109,0.530 C0.17,0.558 0.225,0.595 0.27,0.636 C0.3,0.664 0.32,0.69 0.336,0.716 L0.3726,0.716 Z" transform="translate(0,0) scale(34,-34)" fill="#1a1a1a" stroke="#1a1a1a" stroke-width="0.0132"/><text x="18.91" y="0" font-size="34" fill="#1a1a1a" stroke="#1a1a1a" stroke-width="0.45">770</text><text x="75.94" y="-11.2" font-size="20" fill="#1a1a1a" stroke="#1a1a1a" stroke-width="0.45">+</text><path d="M0.3726,0 L0.2847,0 L0.2847,0.56 C0.25,0.527 0.205,0.497 0.16,0.472 C0.14,0.461 0.12,0.452 0.109,0.447 L0.109,0.530 C0.17,0.558 0.225,0.595 0.27,0.636 C0.3,0.664 0.32,0.69 0.336,0.716 L0.3726,0.716 Z" transform="translate(87.62,-11.2) scale(20,-20)" fill="#1a1a1a" stroke="#1a1a1a" stroke-width="0.0225"/><text x="98.74" y="-11.2" font-size="20" fill="#1a1a1a" stroke="#1a1a1a" stroke-width="0.45">3</text></g>
<text x="640.7" y="508" font-size="28" text-anchor="start" font-weight="normal" fill="#1a1a1a" stroke="#1a1a1a" stroke-width="0.45">(min. 550)</text>
<text x="643" y="544" font-size="34" text-anchor="start" font-weight="normal" fill="#1a1a1a" stroke="#1a1a1a" stroke-width="0.45">&#8805;</text>
<text x="670.9" y="544.8" font-size="34" text-anchor="start" font-weight="normal" fill="#1a1a1a" stroke="#1a1a1a" stroke-width="0.45">560</text>
<circle cx="744.3" cy="533.7" r="11.8" fill="none" stroke="#1a1a1a" stroke-width="2.4"/>
<path d="M737.2,534 Q744.3,545 752.3,534" fill="none" stroke="#1a1a1a" stroke-width="2.3"/>
<circle cx="741.5" cy="529.3" r="1.3" fill="#1a1a1a"/><circle cx="747.6" cy="529.3" r="1.3" fill="#1a1a1a"/>
<line x1="762.3" y1="528.5" x2="804" y2="509.8" stroke="#1a1a1a" stroke-width="1.3"/>
<polygon points="804,509.8 785.59,524.96 780.44,513.46" fill="#1a1a1a"/>
<line x1="711.3" y1="552.5" x2="671.5" y2="570.3" stroke="#1a1a1a" stroke-width="1.3"/>
<polygon points="671.5,570.3 689.92,555.16 695.07,566.66" fill="#1a1a1a"/>
<text x="696.8" y="740.7" font-size="34" text-anchor="start" font-weight="normal" fill="#1a1a1a" stroke="#1a1a1a" stroke-width="0.45">W</text>
<text x="696" y="768.7" font-size="34" text-anchor="start" font-weight="normal" fill="#1a1a1a" stroke="#1a1a1a" stroke-width="0.45">min.38</text>
<line x1="751.3" y1="803.3" x2="788.8" y2="787.3" stroke="#1a1a1a" stroke-width="1.3"/>
<polygon points="788.8,787.3 771.84,801.06 767.13,790.02" fill="#1a1a1a"/>
<line x1="842.5" y1="765.5" x2="805" y2="781.5" stroke="#1a1a1a" stroke-width="1.3"/>
<polygon points="805,781.5 821.96,767.74 826.67,778.78" fill="#1a1a1a"/>
<line x1="720.7" y1="827" x2="671.3" y2="809.3" stroke="#1a1a1a" stroke-width="1.3"/>
<polygon points="671.3,809.3 696.09,811.28 691.7,823.51" fill="#1a1a1a"/>
<line x1="788" y1="851.6" x2="824.5" y2="865.3" stroke="#1a1a1a" stroke-width="1.3"/>
<polygon points="824.5,865.3 799.75,862.95 804.31,850.78" fill="#1a1a1a"/>
<text x="719.8" y="851.9" font-size="31" text-anchor="start" font-weight="normal" fill="#1a1a1a" stroke="#1a1a1a" stroke-width="0.45">560<tspan font-size="17.5" dy="-10.9">+8</tspan></text>
<line x1="789.6" y1="820.1" x2="848.5" y2="793.3" stroke="#1a1a1a" stroke-width="1.1"/>
<line x1="953" y1="879" x2="1009.5" y2="853" stroke="#1a1a1a" stroke-width="1.1"/>
<line x1="899.8" y1="812.5" x2="848.2" y2="793.5" stroke="#1a1a1a" stroke-width="1.3"/>
<polygon points="848.2,793.5 872.97,795.69 868.48,807.89" fill="#1a1a1a"/>
<line x1="935.2" y1="825.6" x2="1009.2" y2="853" stroke="#1a1a1a" stroke-width="1.3"/>
<polygon points="1009.2,853 984.44,850.76 988.95,838.57" fill="#1a1a1a"/>
<text x="909.3" y="831.3" font-size="36" text-anchor="start" font-weight="normal" fill="#1a1a1a" stroke="#1a1a1a" stroke-width="0.45">L</text>
<rect x="907.7" y="719.3" width="120.6" height="59" fill="#fff" stroke="#1a1a1a" stroke-width="1.8"/>
<text x="968" y="743.7" font-size="25.5" text-anchor="middle" font-weight="normal" fill="#1a1a1a" stroke="#1a1a1a" stroke-width="0.45">&#8805; 200 cm&#178;</text>
<text x="968.1" y="766.4" font-size="25.5" text-anchor="middle" font-weight="normal" fill="#1a1a1a" stroke="#1a1a1a" stroke-width="0.45">(L*W)</text>
<line x1="775" y1="952.5" x2="807.5" y2="938.7" stroke="#1a1a1a" stroke-width="1.0"/>
<line x1="789" y1="996" x2="789" y2="941.2" stroke="#1a1a1a" stroke-width="1.3"/>
<polygon points="789,941.2 795.3,964.2 782.7,964.2" fill="#1a1a1a"/>
<text x="710.2" y="1025" font-size="34" text-anchor="start" font-weight="normal" fill="#1a1a1a" stroke="#1a1a1a" stroke-width="0.45">&#8805; 200 cm&#178;</text>
<rect x="876.6" y="1055.4" width="123" height="143" fill="#fff" stroke="#1a1a1a" stroke-width="2.7"/>
<rect x="906.6" y="1067.3" width="62.5" height="62.3" rx="2.5" fill="none" stroke="#1a1a1a" stroke-width="5.3"/>
<polygon points="904,1128.5 905.5,1134.5 964.3,1154.2 965.8,1149.2 910,1131.3" fill="#1a1a1a"/>
<line x1="933.5" y1="1134.6" x2="967" y2="1137.9" stroke="#1a1a1a" stroke-width="1.7" stroke-dasharray="4.2 2.8"/>
<line x1="934" y1="1136.8" x2="966" y2="1143.2" stroke="#1a1a1a" stroke-width="1.7" stroke-dasharray="4.2 2.8"/>
<line x1="924.5" y1="1133.4" x2="926.5" y2="1133.7" stroke="#555" stroke-width="1.2"/>
<text x="937.7" y="1172" font-size="16.6" text-anchor="middle" font-weight="bold" fill="#1a1a1a" stroke="#1a1a1a" stroke-width="0.45">SOFT</text>
<text x="937.7" y="1188.7" font-size="16.8" text-anchor="middle" font-weight="bold" fill="#1a1a1a" stroke="#1a1a1a" stroke-width="0.45">CLOSING</text>
</svg>
</body></html>
